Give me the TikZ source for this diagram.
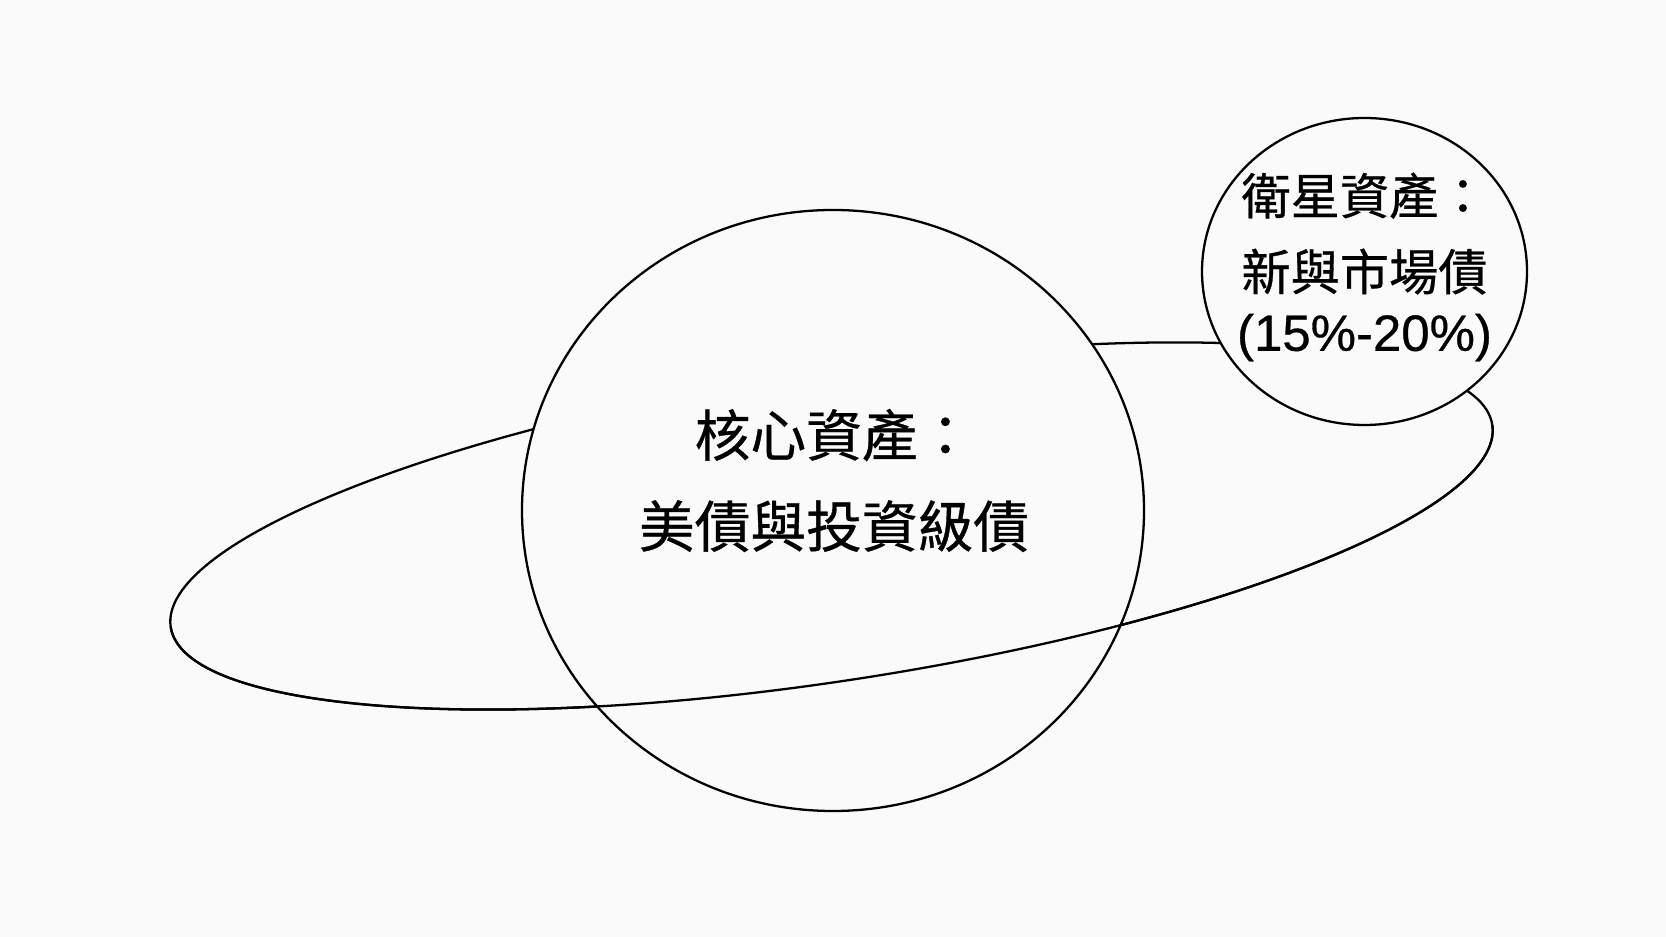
\documentclass[tikz,border=0pt]{standalone}
\usepackage{fontspec}
\setmainfont{Noto Sans CJK TC}[RawFeature={embolden=0.6}]
\newfontfamily\latinfont{Liberation Sans}[RawFeature={embolden=0.6}]
\usetikzlibrary{shapes.geometric}
\definecolor{paper}{RGB}{250,250,250}

\begin{document}
\begin{tikzpicture}[
        orbit/.style={line width=1.3pt},
        planet/.style={ellipse,draw,line width=1.3pt,fill=paper,inner sep=0pt}]
        \fill[paper] (0,0) rectangle (33.32,18.74);
        \useasboundingbox (0,0) rectangle (33.32,18.74);
        \coordinate (sun) at (16.63,8.22);
        \draw[orbit,shift={(sun)},rotate=8.7] (0,0) ellipse [x radius=13.37, y radius=3.10];
        \node[planet,minimum width=12.44cm,minimum height=12.02cm] (core) at (16.66,8.53) {};
        \node[planet,minimum width=6.5cm,minimum height=6.14cm] (sat) at (27.29,13.31) {};
        \draw[orbit,shift={(sun)},rotate=8.7] (180:13.37 and 3.10) arc [start angle=180, end angle=360, x radius=13.37, y radius=3.10];
        \node[align=center,font=\fontsize{31.7}{51.8}\selectfont] (coretext) at (16.68,9.13) {核心資產：\\美債與投資級債};
        \node[align=center,font=\fontsize{28}{43.2}\selectfont] (sattext) at (27.29,13.40) {衛星資產：\\新與市場債\\[-8.8pt]{\latinfont\fontsize{29}{43}\selectfont (15\%-20\%)}};
        \end{tikzpicture}
\end{document}
